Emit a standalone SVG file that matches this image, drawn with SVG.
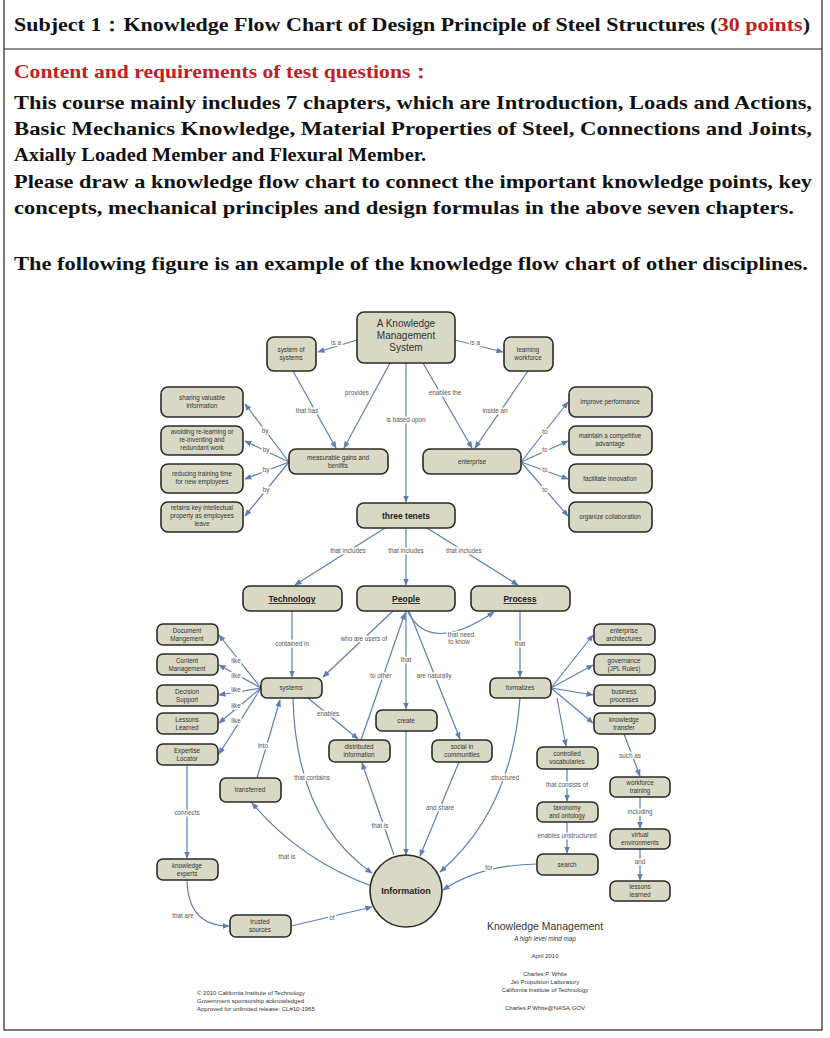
<svg xmlns="http://www.w3.org/2000/svg" width="830" height="1038" viewBox="0 0 830 1038">
<style>
.hd{font-family:"Liberation Serif","Times New Roman",serif;font-weight:bold;font-size:19px;fill:#111}
.red{fill:#c0201f}
.n rect,.n circle{fill:#d8d8c4;stroke:#2a2a2a;stroke-width:1.6}
.n text{font-family:"Liberation Sans",Arial,sans-serif;font-size:6.3px;fill:#333;text-anchor:middle}
.e path{fill:none;stroke:#5b7fb3;stroke-width:1.2;marker-end:url(#a)}
.l text{font-family:"Liberation Sans",Arial,sans-serif;font-size:6.3px;fill:#555;text-anchor:middle;stroke:#fff;stroke-width:3px;paint-order:stroke;stroke-linejoin:round}
.ft{font-family:"Liberation Sans",Arial,sans-serif;fill:#333;text-anchor:middle}
</style>
<defs><marker id="a" viewBox="0 0 10 10" refX="9" refY="5" markerWidth="6" markerHeight="6" orient="auto"><path d="M0,1 L10,5 L0,9z" fill="#5b7fb3"/></marker></defs>
<rect x="0" y="0" width="830" height="1038" fill="#fff"/>
<rect x="4" y="-2" width="818" height="1032" fill="none" stroke="#222" stroke-width="1.2"/>
<line x1="4" y1="49" x2="822" y2="49" stroke="#222" stroke-width="1.2"/>
<text class="hd" x="14" y="31" textLength="796" lengthAdjust="spacingAndGlyphs">Subject 1：Knowledge Flow Chart of Design Principle of Steel Structures (<tspan class="red">30 points</tspan>)</text>
<text class="hd red" x="14" y="78" textLength="418" lengthAdjust="spacingAndGlyphs">Content and requirements of test questions：</text>
<text class="hd" x="14" y="109" textLength="798" lengthAdjust="spacingAndGlyphs">This course mainly includes 7 chapters, which are Introduction, Loads and Actions,</text>
<text class="hd" x="14" y="135" textLength="798" lengthAdjust="spacingAndGlyphs">Basic Mechanics Knowledge, Material Properties of Steel, Connections and Joints,</text>
<text class="hd" x="14" y="161" textLength="412" lengthAdjust="spacingAndGlyphs">Axially Loaded Member and Flexural Member.</text>
<text class="hd" x="14" y="188" textLength="798" lengthAdjust="spacingAndGlyphs">Please draw a knowledge flow chart to connect the important knowledge points, key</text>
<text class="hd" x="14" y="214" textLength="780" lengthAdjust="spacingAndGlyphs">concepts, mechanical principles and design formulas in the above seven chapters.</text>
<text class="hd" x="14" y="270" textLength="794" lengthAdjust="spacingAndGlyphs">The following figure is an example of the knowledge flow chart of other disciplines.</text>

<g class="e" id="connectors">
<path d="M357,340 L318,352"/>
<path d="M455,340 L503,352"/>
<path d="M293,371 L336,448"/>
<path d="M390,363 L344,448"/>
<path d="M406,363 L406,502"/>
<path d="M423,363 L472,448"/>
<path d="M528,371 L475,448"/>
<path d="M289,462 L245,404"/><path d="M289,462 L245,441"/><path d="M289,462 L245,479"/><path d="M289,462 L245,516"/>
<path d="M521,462 L568,402"/><path d="M521,462 L568,441"/><path d="M521,462 L568,479"/><path d="M521,462 L568,516"/>
<path d="M385,528 L295,585"/>
<path d="M406,528 L406,585"/>
<path d="M427,528 L518,585"/>
<path d="M292,611 L292,677"/>
<path d="M393,611 L323,677"/>
<path d="M408,612 Q430,655 494,612"/>
<path d="M406,611 L406,709"/>
<path d="M361,740 L405,613"/>
<path d="M409,611 L460,739"/>
<path d="M308,698 L358,739"/>
<path d="M261,688 L219,635"/><path d="M261,688 L219,665"/><path d="M261,688 L219,695"/><path d="M261,688 L219,723"/><path d="M261,688 L219,754"/>
<path d="M187,765 L187,858"/>
<path d="M257,778 L280,700"/>
<path d="M293,698 Q296,820 372,873"/>
<path d="M374,887 Q300,860 252,803"/>
<path d="M394,855 L362,763"/>
<path d="M406,731 L406,855"/>
<path d="M459,762 L420,856"/>
<path d="M520,698 Q512,810 440,872"/>
<path d="M537,864 Q480,865 443,890"/>
<path d="M187,880 Q188,926 229,926"/>
<path d="M291,926 L372,907"/>
<path d="M520,611 L520,677"/>
<path d="M551,688 L593,635"/><path d="M551,688 L593,665"/><path d="M551,688 L593,695"/><path d="M551,688 L593,723"/>
<path d="M557,698 L566,746"/>
<path d="M567,769 L567,801"/>
<path d="M567,822 L567,853"/>
<path d="M624,734 L640,776"/>
<path d="M640,797 L640,828"/>
<path d="M640,849 L640,880"/>
</g>

<g class="l">
<text x="336" y="345">is a</text><text x="475" y="345">is a</text>
<text x="307" y="413">that has</text><text x="357" y="395">provides</text><text x="406" y="422">is based upon</text>
<text x="445" y="395">enables the</text><text x="495" y="413">inside an</text>
<text x="265" y="433">by</text><text x="266" y="452">by</text><text x="266" y="472">by</text><text x="266" y="492">by</text>
<text x="545" y="434">to</text><text x="545" y="452">to</text><text x="545" y="472">to</text><text x="545" y="492">to</text>
<text x="348" y="553">that includes</text><text x="406" y="553">that includes</text><text x="464" y="553">that includes</text>
<text x="292" y="646">contained in</text><text x="364" y="641">who are users of</text>
<text x="461" y="637">that need</text><text x="459" y="644">to know</text>
<text x="406" y="662">that</text><text x="381" y="678">to other</text><text x="434" y="678">are naturally</text>
<text x="328" y="716">enables</text>
<text x="236" y="663">like</text><text x="236" y="678">like</text><text x="236" y="692">like</text><text x="236" y="708">like</text><text x="236" y="723">like</text>
<text x="263" y="748">into</text><text x="312" y="780">that contains</text><text x="187" y="815">connects</text>
<text x="287" y="859">that is</text><text x="380" y="828">that is</text><text x="440" y="810">and share</text>
<text x="505" y="780">structured</text><text x="489" y="870">for</text>
<text x="183" y="918">that are</text><text x="332" y="920">of</text>
<text x="520" y="646">that</text><text x="567" y="787">that consists of</text><text x="567" y="838">enables unstructured</text>
<text x="630" y="758">such as</text><text x="640" y="814">including</text><text x="640" y="864">and</text>
</g>

<g class="n" id="kms"><rect x="357" y="312" width="98" height="51" rx="7" stroke-width="3"/><text x="406" y="327" style="font-size:10px">A Knowledge</text><text x="406" y="339" style="font-size:10px">Management</text><text x="406" y="351" style="font-size:10px">System</text></g>
<g class="n" id="sos"><rect x="267" y="337" width="49" height="34" rx="7"/><text x="291" y="352">system of</text><text x="291" y="360">systems</text></g>
<g class="n" id="lw"><rect x="504" y="337" width="49" height="34" rx="7"/><text x="528" y="352">learning</text><text x="528" y="360">workforce</text></g>
<g class="n" id="svi"><rect x="161" y="387" width="82" height="30" rx="7"/><text x="202" y="400">sharing valuable</text><text x="202" y="408">information</text></g>
<g class="n" id="avr"><rect x="161" y="426" width="82" height="29" rx="7"/><text x="202" y="434">avoiding re-learning or</text><text x="202" y="442">re-inventing and</text><text x="202" y="450">redundant work</text></g>
<g class="n" id="rtt"><rect x="161" y="464" width="82" height="29" rx="7"/><text x="202" y="476">reducing training time</text><text x="202" y="484">for new employees</text></g>
<g class="n" id="rki"><rect x="161" y="502" width="82" height="30" rx="7"/><text x="202" y="510">retains key intellectual</text><text x="202" y="518">property as employees</text><text x="202" y="526">leave</text></g>
<g class="n" id="mgb"><rect x="289" y="449" width="99" height="25" rx="7"/><text x="338" y="460">measurable gains and</text><text x="338" y="468">benifits</text></g>
<g class="n" id="ent"><rect x="423" y="449" width="98" height="25" rx="7"/><text x="472" y="464">enterprise</text></g>
<g class="n" id="imp"><rect x="569" y="387" width="83" height="30" rx="7"/><text x="610" y="404">improve performance</text></g>
<g class="n" id="mca"><rect x="569" y="426" width="83" height="29" rx="7"/><text x="610" y="438">maintain a competitive</text><text x="610" y="446">advantage</text></g>
<g class="n" id="fin"><rect x="569" y="464" width="83" height="29" rx="7"/><text x="610" y="481">facilitate innovation</text></g>
<g class="n" id="orc"><rect x="569" y="502" width="83" height="30" rx="7"/><text x="610" y="519">organize collaboration</text></g>
<g class="n" id="tt"><rect x="357" y="503" width="98" height="25" rx="7"/><text x="406" y="519" style="font-size:8.5px;font-weight:bold;fill:#222">three tenets</text></g>
<g class="n" id="tech"><rect x="243" y="586" width="99" height="25" rx="7"/><text x="292" y="602" style="font-size:8.5px;font-weight:bold;fill:#222;text-decoration:underline">Technology</text></g>
<g class="n" id="people"><rect x="357" y="586" width="98" height="25" rx="7"/><text x="406" y="602" style="font-size:8.5px;font-weight:bold;fill:#222;text-decoration:underline">People</text></g>
<g class="n" id="process"><rect x="471" y="586" width="99" height="25" rx="7"/><text x="520" y="602" style="font-size:8.5px;font-weight:bold;fill:#222;text-decoration:underline">Process</text></g>
<g class="n" id="dm"><rect x="157" y="624" width="61" height="21" rx="6"/><text x="187" y="633">Document</text><text x="187" y="641">Mangement</text></g>
<g class="n" id="cm"><rect x="157" y="654" width="61" height="21" rx="6"/><text x="187" y="663">Content</text><text x="187" y="671">Management</text></g>
<g class="n" id="ds"><rect x="157" y="685" width="61" height="21" rx="6"/><text x="187" y="694">Decision</text><text x="187" y="702">Support</text></g>
<g class="n" id="ll"><rect x="157" y="713" width="61" height="21" rx="6"/><text x="187" y="722">Lessons</text><text x="187" y="730">Learned</text></g>
<g class="n" id="el"><rect x="157" y="744" width="61" height="21" rx="6"/><text x="187" y="753">Expertise</text><text x="187" y="761">Locator</text></g>
<g class="n" id="sys"><rect x="261" y="678" width="61" height="20" rx="6"/><text x="291" y="690">systems</text></g>
<g class="n" id="di"><rect x="329" y="740" width="61" height="22" rx="6"/><text x="359" y="749">distributed</text><text x="359" y="757">information</text></g>
<g class="n" id="cr"><rect x="376" y="710" width="61" height="21" rx="6"/><text x="406" y="723">create</text></g>
<g class="n" id="sc"><rect x="432" y="740" width="60" height="22" rx="6"/><text x="462" y="749">social in</text><text x="462" y="757">communities</text></g>
<g class="n" id="fm"><rect x="490" y="678" width="61" height="20" rx="6"/><text x="520" y="690">formalizes</text></g>
<g class="n" id="ea"><rect x="594" y="624" width="61" height="21" rx="6"/><text x="624" y="633">enterprise</text><text x="624" y="641">architectures</text></g>
<g class="n" id="gov"><rect x="594" y="654" width="61" height="21" rx="6"/><text x="624" y="663">governance</text><text x="624" y="671">(JPL Rules)</text></g>
<g class="n" id="bp"><rect x="594" y="685" width="61" height="21" rx="6"/><text x="624" y="694">business</text><text x="624" y="702">processes</text></g>
<g class="n" id="kt"><rect x="594" y="713" width="61" height="21" rx="6"/><text x="624" y="722">knowledge</text><text x="624" y="730">transfer</text></g>
<g class="n" id="cv"><rect x="537" y="747" width="61" height="22" rx="6"/><text x="567" y="756">controlled</text><text x="567" y="764">vocabularies</text></g>
<g class="n" id="tr"><rect x="220" y="778" width="61" height="24" rx="6"/><text x="250" y="792">transferred</text></g>
<g class="n" id="ke"><rect x="157" y="859" width="61" height="21" rx="6"/><text x="187" y="868">knowledge</text><text x="187" y="876">experts</text></g>
<g class="n" id="ts"><rect x="230" y="915" width="61" height="22" rx="6"/><text x="260" y="924">trusted</text><text x="260" y="932">sources</text></g>
<g class="n" id="info"><circle cx="406" cy="891" r="36"/><text x="406" y="894" style="font-size:9px;font-weight:bold;fill:#222">Information</text></g>
<g class="n" id="wt"><rect x="610" y="777" width="60" height="20" rx="6"/><text x="640" y="785">workforce</text><text x="640" y="793">training</text></g>
<g class="n" id="to"><rect x="537" y="802" width="61" height="20" rx="6"/><text x="567" y="810">taxonomy</text><text x="567" y="818">and ontology</text></g>
<g class="n" id="ve"><rect x="610" y="829" width="60" height="20" rx="6"/><text x="640" y="837">virtual</text><text x="640" y="845">environments</text></g>
<g class="n" id="sr"><rect x="537" y="854" width="61" height="21" rx="6"/><text x="567" y="867">search</text></g>
<g class="n" id="lls"><rect x="610" y="881" width="60" height="20" rx="6"/><text x="640" y="889">lessons</text><text x="640" y="897">learned</text></g>

<g class="ft">
<text x="545" y="930" font-size="10.5">Knowledge Management</text>
<text x="545" y="941" font-size="6.3" font-style="italic">A high level mind map</text>
<text x="545" y="958" font-size="6">April 2010</text>
<text x="545" y="976" font-size="6">Charles P. White</text>
<text x="545" y="984" font-size="6">Jet Propulsion Laboratory</text>
<text x="545" y="992" font-size="6">California Institute of Technology</text>
<text x="545" y="1010" font-size="6">Charles.P.White@NASA.GOV</text>
<text x="197" y="995" font-size="6" text-anchor="start">© 2010 California Institute of Technology</text>
<text x="197" y="1003" font-size="6" text-anchor="start">Government sponsorship acknowledged</text>
<text x="197" y="1011" font-size="6" text-anchor="start">Approved for unlimited release: CL#10-1965</text>
</g>
</svg>
